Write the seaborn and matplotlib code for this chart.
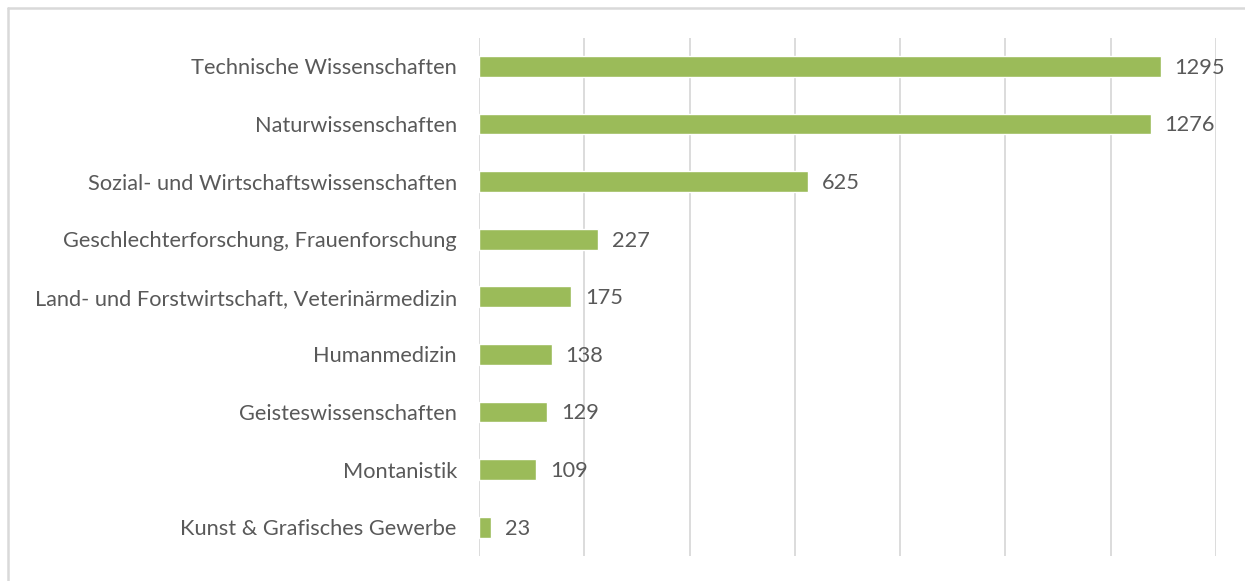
import matplotlib
matplotlib.use("Agg")
import matplotlib.pyplot as plt
import seaborn as sns
import pandas as pd
from matplotlib.lines import Line2D

categories = [
    "Technische Wissenschaften",
    "Naturwissenschaften",
    "Sozial- und Wirtschaftswissenschaften",
    "Geschlechterforschung, Frauenforschung",
    "Land- und Forstwirtschaft, Veterinärmedizin",
    "Humanmedizin",
    "Geisteswissenschaften",
    "Montanistik",
    "Kunst & Grafisches Gewerbe",
]
values = [1295, 1276, 625, 227, 175, 138, 129, 109, 23]

sns.set_theme(style="white")
plt.rcParams["font.family"] = ["Lato", "DejaVu Sans"]

df = pd.DataFrame({"cat": categories, "val": values})

fig = plt.figure(figsize=(12.45, 5.81), dpi=100)
ax = fig.add_axes([479 / 1245, 1 - 556 / 581, (1216 - 479) / 1245, (556 - 37.5) / 581])

sns.barplot(data=df, x="val", y="cat", orient="h", color="#9BBB59",
            saturation=1, width=0.36, ax=ax, zorder=3)

ax.set_xlim(0, 1400)
ax.set_ylim(8.5, -0.5)
ax.set_xticks(range(0, 1401, 200))
ax.set_xticklabels([])
ax.grid(axis="x", color="#D9D9D9", linewidth=1.3, zorder=0)
ax.grid(axis="y", visible=False)
for s in ax.spines.values():
    s.set_visible(False)
ax.set_xlabel("")
ax.set_ylabel("")
ax.tick_params(axis="y", length=0, pad=16, labelsize=15.7, labelcolor="#595959")
ax.tick_params(axis="x", length=0)

for i, v in enumerate(values):
    ax.annotate(str(v), xy=(v, i), xytext=(10, -1), textcoords="offset points",
                va="center", ha="left", fontsize=15.7, color="#595959")

fig.add_artist(Line2D([8 / 1245, 1], [1 - 8 / 581, 1 - 8 / 581], transform=fig.transFigure,
                      color="#D9D9D9", linewidth=1.8))
fig.add_artist(Line2D([8 / 1245, 8 / 1245], [0, 1 - 8 / 581], transform=fig.transFigure,
                      color="#D9D9D9", linewidth=1.8))

fig.savefig("out.png", dpi=100, facecolor="white")
